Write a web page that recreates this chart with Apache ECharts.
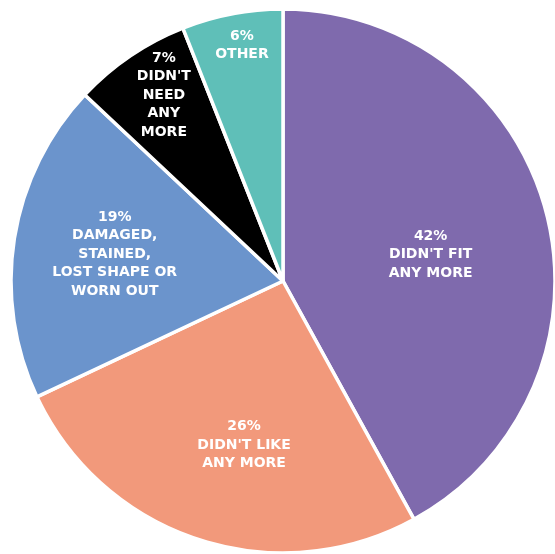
<!DOCTYPE html>
<html><head><meta charset="utf-8">
<script src="https://cdn.jsdelivr.net/npm/echarts@6/dist/echarts.min.js"></script>
<style>html,body{margin:0;padding:0;background:#fff}#c{width:555px;height:554px}</style>
</head><body><div id="c"></div>
<script>
const categories = ["DIDN'T FIT\nANY MORE", "DIDN'T LIKE\nANY MORE", "DAMAGED,\nSTAINED,\nLOST SHAPE OR\nWORN OUT", "DIDN'T\nNEED\nANY\nMORE", "OTHER"];
const values = [42, 26, 19, 7, 6];
const colors = ['#7f6aad', '#f2997b', '#6b94cc', '#000000', '#5fbfb8'];
const offsets = [[13, 8], [4, 32], [-31, -5], [-41, -71], [-15, -99]];

const chart = echarts.init(document.getElementById('c'), null, {renderer: 'canvas'});
chart.setOption({
  animation: false,
  backgroundColor: '#ffffff',
  series: [{
    type: 'pie',
    center: [283, 281],
    radius: [0, 272],
    startAngle: 90,
    clockwise: true,
    avoidLabelOverlap: false,
    labelLine: {show: false},
    itemStyle: {borderColor: '#ffffff', borderWidth: 3.5},
    emphasis: {disabled: true},
    data: values.map((v, i) => ({
      value: v,
      name: categories[i],
      itemStyle: {color: colors[i]},
      label: {offset: offsets[i]}
    })),
    label: {
      show: true,
      position: 'inside',
      color: '#ffffff',
      fontFamily: 'DejaVu Sans',
      fontWeight: 'bold',
      fontSize: 14,
      lineHeight: 18.5,
      align: 'center',
      formatter: p => p.value + '%\n' + p.name
    }
  }]
});
</script></body></html>
